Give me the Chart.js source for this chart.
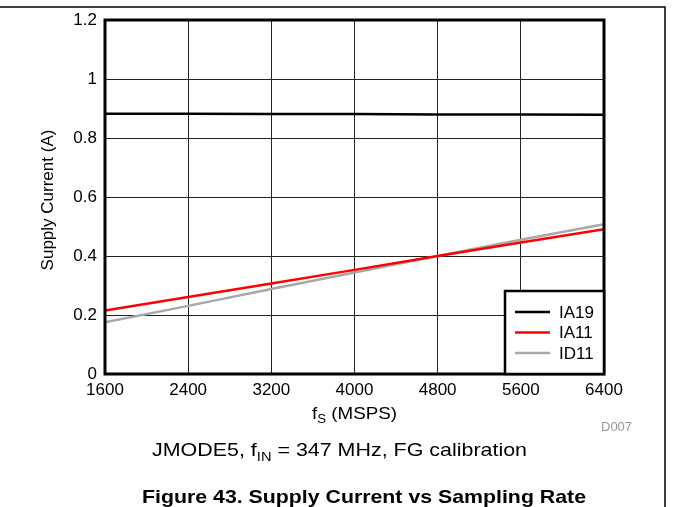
<!DOCTYPE html>
<html>
<head>
<meta charset="utf-8">
<script src="https://cdn.jsdelivr.net/npm/chart.js@4"></script>
<style>
  html, body { margin: 0; padding: 0; background: #fff; }
  #wrap { width: 673px; height: 507px; position: relative; }
</style>
</head>
<body>
<div id="wrap"><canvas id="currChart" width="673" height="507"></canvas></div>
<script>
// sampling rate (MSPS) and supply currents (A)
const fs = [1600, 2400, 3200, 4000, 4800, 5600, 6400];
const ia19 = [0.882, 0.882, 0.881, 0.881, 0.880, 0.880, 0.879];
const ia11 = [0.215, 0.261, 0.307, 0.353, 0.400, 0.446, 0.491];
const id11 = [0.175, 0.231, 0.288, 0.344, 0.400, 0.455, 0.508];
const seriesNames = ['IA19', 'IA11', 'ID11'];
const seriesColors = ['#000000', '#ff0000', '#a8a8a8'];

const font = '"Liberation Sans", Arial, sans-serif';

function pts(ys) {
    return fs.map((x, i) => ({ x: x, y: ys[i] }));
}

// draws pieces of text [text, size, dy] in a row, stretched to a given width
function drawRow(c, parts, x0, base, width, bold) {
    const w = bold ? 'bold ' : '';
    let nat = 0;
    parts.forEach(p => { c.font = w + p[1] + 'px ' + font; nat += c.measureText(p[0]).width; });
    const k = width / nat;
    c.save();
    c.translate(x0, base);
    c.scale(k, 1);
    let x = 0;
    parts.forEach(p => {
        c.font = w + p[1] + 'px ' + font;
        c.fillText(p[0], x, p[2]);
        x += c.measureText(p[0]).width;
    });
    c.restore();
}

// frame, plot border, legend box and the caption texts
const extras = {
    id: 'extras',
    afterDatasetsDraw(chart) {
        const c = chart.ctx;
        const a = chart.chartArea;
        c.save();
        c.strokeStyle = '#000';
        c.lineWidth = 3;
        c.strokeRect(a.left, a.top, a.right - a.left, a.bottom - a.top);

        // legend in lower right corner
        const lx = 505, ly = 291, lw = a.right - lx, lh = a.bottom - ly;
        c.fillStyle = '#fff';
        c.fillRect(lx, ly, lw, lh);
        c.lineWidth = 2.5;
        c.strokeRect(lx, ly, lw, lh);
        c.font = '17px ' + font;
        c.textBaseline = 'middle';
        chart.data.datasets.forEach((ds, i) => {
            const y = 312 + i * 20.5;
            c.strokeStyle = ds.borderColor;
            c.lineWidth = 2.5;
            c.beginPath();
            c.moveTo(515, y);
            c.lineTo(550, y);
            c.stroke();
            c.fillStyle = '#000';
            c.fillText(ds.label, 559, y + 1);
        });

        // page frame
        c.strokeStyle = '#000';
        c.lineWidth = 1.5;
        c.beginPath();
        c.moveTo(0, 7);
        c.lineTo(665, 7);
        c.lineTo(665, 507);
        c.stroke();

        c.fillStyle = '#000';
        c.textBaseline = 'alphabetic';
        c.textAlign = 'left';

        // y axis title
        c.save();
        c.translate(53, 200);
        c.rotate(-Math.PI / 2);
        c.font = '17px ' + font;
        c.textAlign = 'center';
        c.fillText('Supply Current (A)', 0, 0);
        c.restore();

        // x axis title with subscript
        drawRow(c, [['f', 17, 0], ['S', 12, 4], [' (MSPS)', 17, 0]], 312, 419, 85, false);

        c.fillStyle = '#999';
        c.font = '13px ' + font;
        c.fillText('D007', 601, 431);

        // condition line and figure title
        c.fillStyle = '#000';
        drawRow(c, [['JMODE5, f', 19, 0], ['IN', 13, 5], [' = 347 MHz, FG calibration', 19, 0]], 152, 456, 375, false);
        drawRow(c, [['Figure 43. Supply Current vs Sampling Rate', 19, 0]], 142, 503, 444, true);
        c.restore();
    }
};

function tickText(v) {
    return String(Number(v.toFixed(1)));
}

new Chart(document.getElementById('currChart').getContext('2d'), {
    type: 'scatter',
    data: {
        datasets: [
            { label: seriesNames[0], data: pts(ia19), borderColor: seriesColors[0] },
            { label: seriesNames[1], data: pts(ia11), borderColor: seriesColors[1] },
            { label: seriesNames[2], data: pts(id11), borderColor: seriesColors[2] }
        ].map(d => Object.assign(d, { showLine: true, borderWidth: 2.5, pointRadius: 0, fill: false, tension: 0 }))
    },
    options: {
        responsive: false,
        animation: false,
        layout: { padding: { left: 0, right: 69, top: 20, bottom: 0 } },
        plugins: { legend: { display: false }, tooltip: { enabled: false } },
        scales: {
            x: {
                type: 'linear',
                min: 1600, max: 6400,
                afterFit(s) { s.height = 133; },
                ticks: { stepSize: 800, color: '#000', font: { family: font, size: 17 }, padding: 6, maxRotation: 0, callback: v => String(v) },
                grid: { color: '#222', lineWidth: 1, drawTicks: false },
                border: { display: false }
            },
            y: {
                min: 0, max: 1.2,
                afterFit(s) { s.width = 105; },
                ticks: { stepSize: 0.2, color: '#000', font: { family: font, size: 17 }, padding: 8, callback: tickText },
                grid: { color: '#222', lineWidth: 1, drawTicks: false },
                border: { display: false }
            }
        }
    },
    plugins: [extras]
});
</script>
</body>
</html>
